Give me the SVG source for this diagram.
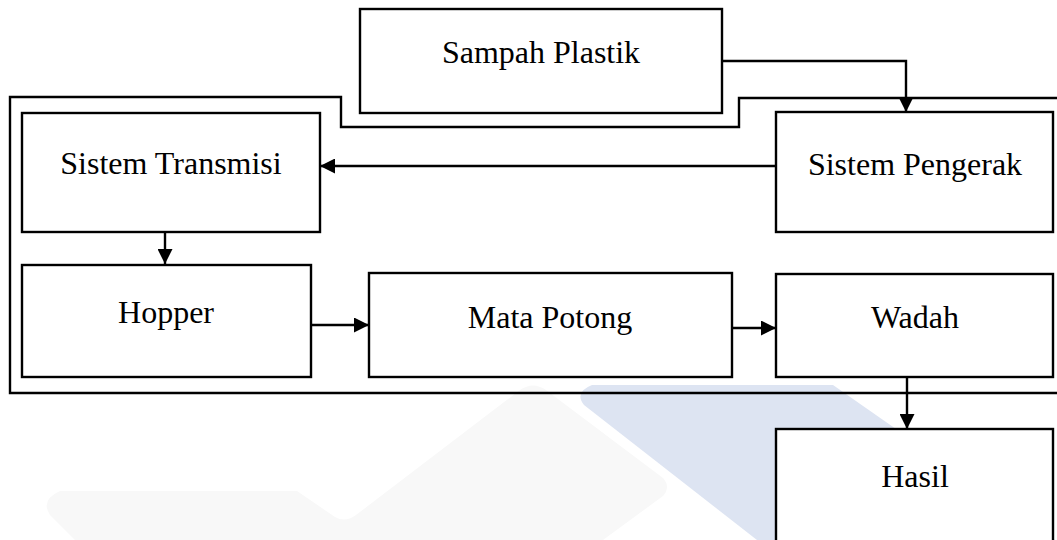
<svg xmlns="http://www.w3.org/2000/svg" width="1057" height="540" viewBox="0 0 1057 540">
  <style>
    .box { fill: #ffffff; stroke: #000000; stroke-width: 2.4; }
    .frame { fill: none; stroke: #000000; stroke-width: 2.4; }
    .wire { fill: none; stroke: #000000; stroke-width: 2.4; }
    .label { font-family: "Liberation Serif", "Times New Roman", serif; font-size: 32px; fill: #000000; text-anchor: middle; }
  </style>
  <defs>
    <marker id="arrow" viewBox="0 0 15 15" refX="15" refY="7.5" markerWidth="15" markerHeight="15" markerUnits="userSpaceOnUse" orient="auto">
      <path d="M0,0 L15,7.5 L0,15 Z" fill="#000000"/>
    </marker>
  </defs>

  <rect width="1057" height="540" fill="#ffffff"/>

  <!-- background emblem -->
  <g id="emblem">
    <path d="M60,491 L297,491 L335,517 Q345,523 356,515 L520,390 Q533,381 546,390 L663,478 Q671,487 663,496 L603,540 L75,540 L50,515 Q40,500 60,491 Z" fill="#f8f8f8"/>
    <path d="M592,385 L833,385 L1055,540 L757,540 L584,405 Q574,392 592,385 Z" fill="#dde4f2"/>
  </g>

  <!-- enclosing outline of the machine -->
  <g id="machine-frame">
    <path class="frame" d="M1062,98 L739,98 L739,127 L341,127 L341,97 L10,97 L10,393 L1062,393"/>
  </g>

  <g id="connectors">
    <path class="wire" d="M722,61 L906,61 L906,112" marker-end="url(#arrow)"/>
    <path class="wire" d="M776,166 L320,166" marker-end="url(#arrow)"/>
    <path class="wire" d="M165,232 L165,264" marker-end="url(#arrow)"/>
    <path class="wire" d="M311,325 L369,325" marker-end="url(#arrow)"/>
    <path class="wire" d="M732,328 L776,328" marker-end="url(#arrow)"/>
    <path class="wire" d="M907,377 L907,429" marker-end="url(#arrow)"/>
  </g>

  <g id="sampah-plastik">
    <rect class="box" x="360" y="9" width="362" height="104"/>
    <text class="label" x="541" y="63">Sampah Plastik</text>
  </g>

  <g id="sistem-pengerak">
    <rect class="box" x="776" y="112" width="277" height="120"/>
    <text class="label" x="915" y="175">Sistem Pengerak</text>
  </g>

  <g id="sistem-transmisi">
    <rect class="box" x="22" y="113" width="298" height="119"/>
    <text class="label" x="171" y="174">Sistem Transmisi</text>
  </g>

  <g id="hopper">
    <rect class="box" x="22" y="265" width="289" height="112"/>
    <text class="label" x="166" y="323">Hopper</text>
  </g>

  <g id="mata-potong">
    <rect class="box" x="369" y="273" width="363" height="104"/>
    <text class="label" x="550" y="328">Mata Potong</text>
  </g>

  <g id="wadah">
    <rect class="box" x="776" y="274" width="277" height="103"/>
    <text class="label" x="915" y="328">Wadah</text>
  </g>

  <g id="hasil">
    <rect class="box" x="776" y="429" width="277" height="130"/>
    <text class="label" x="915" y="487">Hasil</text>
  </g>
</svg>
